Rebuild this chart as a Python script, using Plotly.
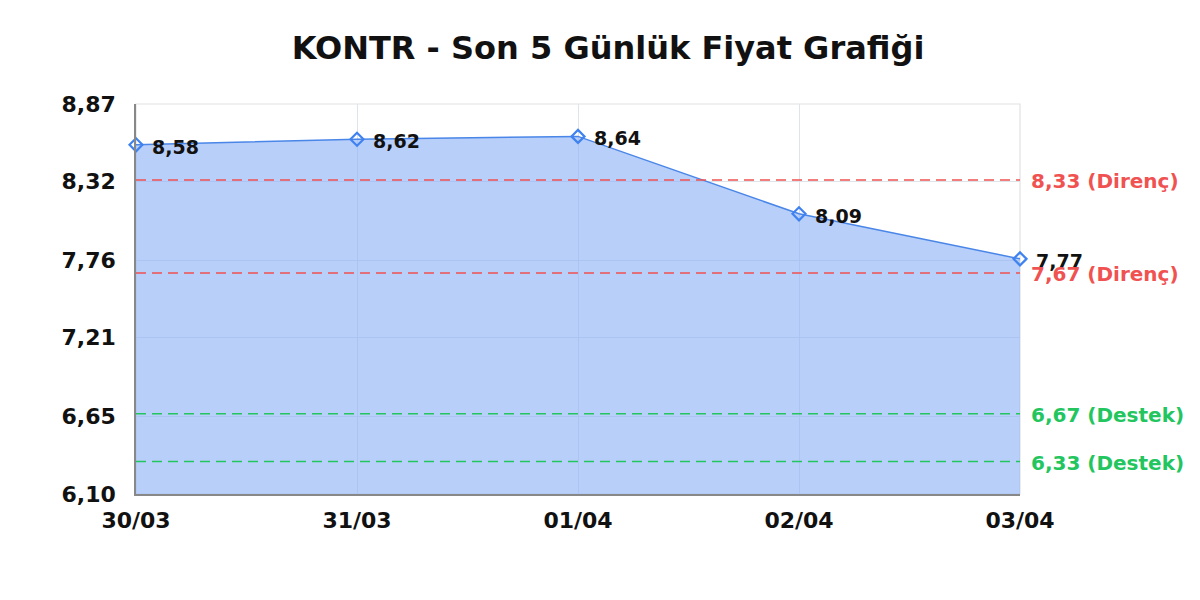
import plotly.graph_objects as go

dates = ["30/03", "31/03", "01/04", "02/04", "03/04"]
prices = [8.58, 8.62, 8.64, 8.09, 7.77]

levels = [8.33, 7.67, 6.67, 6.33]
level_names = ["Direnç", "Direnç", "Destek", "Destek"]
level_colors = ["#f05252", "#f05252", "#22c55e", "#22c55e"]

y_ticks = [6.10, 6.65, 7.21, 7.76, 8.32, 8.87]
y_ticktext = ["6,10", "6,65", "7,21", "7,76", "8,32", "8,87"]

font = "DejaVu Sans"

fig = go.Figure()

fig.add_trace(go.Scatter(
    x=dates, y=prices,
    mode="lines+markers",
    fill="tozeroy",
    fillcolor="rgba(140,178,245,0.62)",
    line=dict(color="#4a86e8", width=1.5),
    marker=dict(symbol="diamond-open", size=10, color="#3f82f0", line=dict(width=2.2)),
    cliponaxis=False,
    showlegend=False,
))

# value labels next to each point
for d, p in zip(dates, prices):
    fig.add_annotation(x=d, y=p, xanchor="left", yanchor="middle", xshift=14, yshift=-2,
                       text=f"{p:.2f}".replace(".", ","), showarrow=False,
                       font=dict(family=font, size=19, color="#111111", weight="bold"))

# light frame on top / right like the reference
fig.add_shape(type="rect", xref="paper", yref="paper", x0=0, x1=1, y0=0, y1=1,
              line=dict(color="#e2e2e2", width=1.2), layer="below")

for lv, name, col in zip(levels, level_names, level_colors):
    fig.add_shape(type="line", xref="paper", x0=0, x1=1, yref="y", y0=lv, y1=lv,
                  line=dict(color=col, width=1.5, dash="10px,6px"))
    fig.add_annotation(xref="paper", x=1, y=lv, xanchor="left", xshift=9, yshift=-1,
                       text=f"{lv:.2f}".replace(".", ",") + f" ({name})",
                       showarrow=False,
                       font=dict(family=font, size=20, color=col, weight="bold"))

fig.update_layout(
    width=1200, height=600,
    paper_bgcolor="white", plot_bgcolor="white",
    margin=dict(l=128, r=188, t=96, b=114),
    title=dict(text="<b>KONTR - Son 5 Günlük Fiyat Grafiği</b>", x=0.5, xanchor="center",
               yref="container", y=0.933, yanchor="middle",
               font=dict(family=font, size=32, color="#111111")),
    xaxis=dict(range=[0, 4], showgrid=True, gridcolor="#dfe3ea", showline=True,
               linecolor="#888888", linewidth=1.5, ticks="", ticklabelstandoff=6,
               tickfont=dict(family=font, size=22, color="#111111", weight="bold")),
    yaxis=dict(range=[6.10, 8.87], tickvals=y_ticks, ticktext=y_ticktext,
               showgrid=True, gridcolor="#dfe3ea", showline=True,
               linecolor="#888888", linewidth=1.5, ticks="", zeroline=False,
               ticklabelstandoff=14,
               tickfont=dict(family=font, size=22, color="#111111", weight="bold")),
)

fig.write_html("out.html")
